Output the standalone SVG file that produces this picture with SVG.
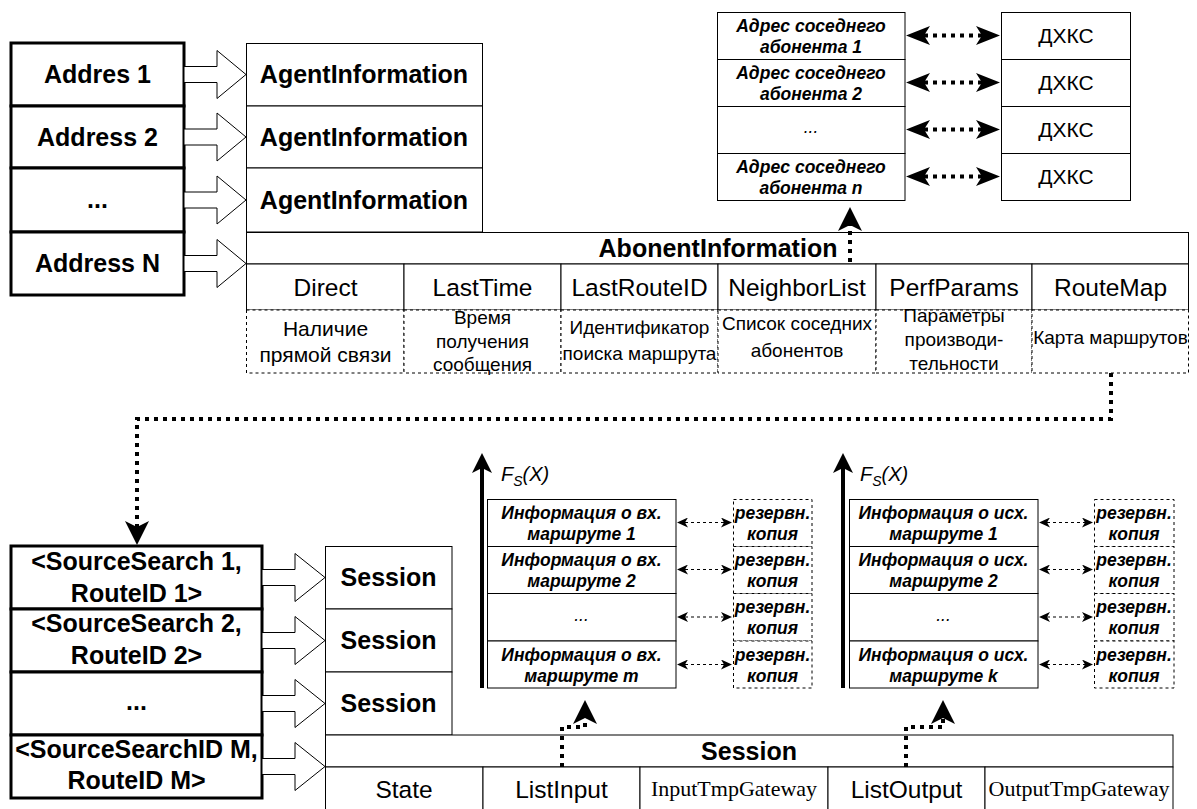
<svg xmlns="http://www.w3.org/2000/svg" width="1197" height="809" viewBox="0 0 1197 809">
  <style>
    .thin { fill: #fff; stroke: #000; stroke-width: 1; }
    .thick { fill: #fff; stroke: #000; stroke-width: 3; }
    .dash { fill: #fff; stroke: #000; stroke-width: 1; stroke-dasharray: 3 3; }
    .blk { fill: #fff; stroke: #000; stroke-width: 1; }
    .dot { fill: none; stroke: #000; stroke-width: 4; stroke-dasharray: 4 5; }
    .sdash { fill: none; stroke: #000; stroke-width: 1.2; stroke-dasharray: 3 3; }
    .axis { fill: none; stroke: #000; stroke-width: 4; }
    text { font-family: "Liberation Sans", Arial, sans-serif; fill: #000; text-anchor: middle; }
    .b24 { font-size: 25px; font-weight: bold; }
    .r24 { font-size: 24.5px; }
    .r21 { font-size: 21px; }
    .r19 { font-size: 19px; }
    .r21d { font-size: 21px; }
    .bi { font-size: 17.5px; font-weight: bold; font-style: italic; }
    .ri { font-size: 17.5px; font-style: italic; }
    .serif { font-family: "Liberation Serif", "Times New Roman", serif; font-size: 22px; }
    .fs { font-size: 20px; font-style: italic; text-anchor: start; }
  </style>
  <defs>
    <marker id="aBig" viewBox="0 0 24 24" refX="6" refY="12" markerWidth="24" markerHeight="24" markerUnits="userSpaceOnUse" orient="auto-start-reverse">
      <path d="M24,12 L0,0 L6,12 L0,24 Z" fill="#000"/>
    </marker>
    <marker id="aNb" viewBox="0 0 24 19" refX="6" refY="9.5" markerWidth="24" markerHeight="19" markerUnits="userSpaceOnUse" orient="auto-start-reverse">
      <path d="M24,9.5 L0,0 L6,9.5 L0,19 Z" fill="#000"/>
    </marker>
    <marker id="aSm" viewBox="0 0 11 10" refX="3" refY="5" markerWidth="11" markerHeight="10" markerUnits="userSpaceOnUse" orient="auto-start-reverse">
      <path d="M11,5 L0,0 L3,5 L0,10 Z" fill="#000"/>
    </marker>
    <marker id="aFs" viewBox="0 0 20 20" refX="5" refY="10" markerWidth="20" markerHeight="20" markerUnits="userSpaceOnUse" orient="auto-start-reverse">
      <path d="M20,10 L0,0 L5,10 L0,20 Z" fill="#000"/>
    </marker>
  </defs>

  <rect width="1197" height="809" fill="#fff"/>

  <!-- address table -->
  <g id="addresses">
    <rect class="thick" x="11" y="43" width="173" height="63"/>
    <rect class="thick" x="11" y="106" width="173" height="62"/>
    <rect class="thick" x="11" y="168" width="173" height="64"/>
    <rect class="thick" x="11" y="232" width="173" height="63"/>
    <text class="b24" x="97.5" y="83">Addres 1</text>
    <text class="b24" x="97.5" y="145.5">Address 2</text>
    <text class="b24" x="97.5" y="208">...</text>
    <text class="b24" x="97.5" y="272">Address N</text>
  </g>

  <!-- agent information records -->
  <g id="agent-info">
    <rect class="thin" x="246.5" y="43.5" width="236" height="62.5"/>
    <rect class="thin" x="246.5" y="106" width="236" height="62"/>
    <rect class="thin" x="246.5" y="168" width="236" height="64"/>
    <text class="b24" x="364" y="83">AgentInformation</text>
    <text class="b24" x="364" y="145.5">AgentInformation</text>
    <text class="b24" x="364" y="208.5">AgentInformation</text>
  </g>

  <!-- abonent information structure -->
  <g id="abonent-info">
    <rect class="thin" x="246.5" y="232.5" width="942" height="31.5"/>
    <text class="b24" x="718" y="256.5">AbonentInformation</text>
    <rect class="thin" x="246.5" y="264" width="157.5" height="46"/>
    <rect class="thin" x="404" y="264" width="157" height="46"/>
    <rect class="thin" x="561" y="264" width="157" height="46"/>
    <rect class="thin" x="718" y="264" width="158" height="46"/>
    <rect class="thin" x="876" y="264" width="156" height="46"/>
    <rect class="thin" x="1032" y="264" width="156.5" height="46"/>
    <text class="r24" x="325.5" y="295.5">Direct</text>
    <text class="r24" x="482.5" y="295.5">LastTime</text>
    <text class="r24" x="639.5" y="295.5">LastRouteID</text>
    <text class="r24" x="797" y="295.5">NeighborList</text>
    <text class="r24" x="954" y="295.5">PerfParams</text>
    <text class="r24" x="1110.5" y="295.5">RouteMap</text>
  </g>

  <!-- field descriptions -->
  <g id="abonent-desc">
    <rect class="dash" x="246.5" y="310" width="157.5" height="63"/>
    <rect class="dash" x="404" y="310" width="157" height="63"/>
    <rect class="dash" x="561" y="310" width="157" height="63"/>
    <rect class="dash" x="718" y="310" width="158" height="63"/>
    <rect class="dash" x="876" y="310" width="156" height="63"/>
    <rect class="dash" x="1032" y="310" width="156.5" height="63"/>
    <text class="r21d" x="325.5" y="336">Наличие</text>
    <text class="r21d" x="325.5" y="362">прямой связи</text>
    <text class="r19" x="482.5" y="324">Время</text>
    <text class="r19" x="482.5" y="347.5">получения</text>
    <text class="r19" x="482.5" y="371">сообщения</text>
    <text class="r19" x="639.5" y="334">Идентификатор</text>
    <text class="r19" x="639.5" y="360">поиска маршрута</text>
    <text class="r19" x="797" y="330">Список соседних</text>
    <text class="r19" x="797" y="357">абонентов</text>
    <text class="r19" x="954" y="322">Параметры</text>
    <text class="r19" x="954" y="346">производи-</text>
    <text class="r19" x="954" y="370">тельности</text>
    <text class="r19" x="1110.5" y="344">Карта маршрутов</text>
  </g>

  <!-- neighbour addresses -->
  <g id="neighbors">
    <rect class="thin" x="717.5" y="12.5" width="187.5" height="47"/>
    <rect class="thin" x="717.5" y="59.5" width="187.5" height="47"/>
    <rect class="thin" x="717.5" y="106.5" width="187.5" height="47"/>
    <rect class="thin" x="717.5" y="153.5" width="187.5" height="47"/>
    <text class="bi" x="811" y="31.5">Адрес соседнего</text>
    <text class="bi" x="811" y="52.5">абонента 1</text>
    <text class="bi" x="811" y="78.5">Адрес соседнего</text>
    <text class="bi" x="811" y="99.5">абонента 2</text>
    <text class="ri" x="811" y="133">...</text>
    <text class="bi" x="811" y="172.5">Адрес соседнего</text>
    <text class="bi" x="811" y="193.5">абонента n</text>
  </g>

  <!-- ДХКС blocks -->
  <g id="dhks">
    <rect class="thin" x="1001.5" y="12.5" width="129" height="47"/>
    <rect class="thin" x="1001.5" y="59.5" width="129" height="47"/>
    <rect class="thin" x="1001.5" y="106.5" width="129" height="47"/>
    <rect class="thin" x="1001.5" y="153.5" width="129" height="47"/>
    <text class="r21" x="1066" y="43">ДХКС</text>
    <text class="r21" x="1066" y="90">ДХКС</text>
    <text class="r21" x="1066" y="137">ДХКС</text>
    <text class="r21" x="1066" y="184">ДХКС</text>
  </g>

  <!-- search keys -->
  <g id="source-search">
    <rect class="thick" x="11" y="546" width="251" height="63"/>
    <rect class="thick" x="11" y="609" width="251" height="63"/>
    <rect class="thick" x="11" y="672" width="251" height="63"/>
    <rect class="thick" x="11" y="735" width="251" height="63"/>
    <text class="b24" x="136.5" y="570">&lt;SourceSearch 1,</text>
    <text class="b24" x="136.5" y="601.5">RouteID 1&gt;</text>
    <text class="b24" x="136.5" y="632">&lt;SourceSearch 2,</text>
    <text class="b24" x="136.5" y="663.5">RouteID 2&gt;</text>
    <text class="b24" x="136.5" y="710">...</text>
    <text class="b24" x="136.5" y="758">&lt;SourceSearchID M,</text>
    <text class="b24" x="136.5" y="789">RouteID M&gt;</text>
  </g>

  <!-- session records -->
  <g id="sessions">
    <rect class="thin" x="325.5" y="546.5" width="126.5" height="62.5"/>
    <rect class="thin" x="325.5" y="609" width="126.5" height="63"/>
    <rect class="thin" x="325.5" y="672" width="126.5" height="63"/>
    <text class="b24" x="388.5" y="586">Session</text>
    <text class="b24" x="388.5" y="649">Session</text>
    <text class="b24" x="388.5" y="712">Session</text>
  </g>

  <!-- session structure -->
  <g id="session-struct">
    <rect class="thin" x="325.5" y="735" width="847.5" height="32"/>
    <text class="b24" x="749" y="760">Session</text>
    <rect class="thin" x="325.5" y="767" width="157.5" height="50"/>
    <rect class="thin" x="483" y="767" width="157" height="50"/>
    <rect class="thin" x="640" y="767" width="188" height="50"/>
    <rect class="thin" x="828" y="767" width="157" height="50"/>
    <rect class="thin" x="985" y="767" width="188" height="50"/>
    <text class="r24" x="404" y="797.5">State</text>
    <text class="r24" x="561.5" y="797.5">ListInput</text>
    <text class="serif" x="734" y="796">InputTmpGateway</text>
    <text class="r24" x="906.5" y="797.5">ListOutput</text>
    <text class="serif" x="1079" y="796">OutputTmpGateway</text>
  </g>

  <!-- incoming routes -->
  <g id="in-routes">
    <rect class="thin" x="487.5" y="499.5" width="188.5" height="47"/>
    <rect class="thin" x="487.5" y="546.5" width="188.5" height="47"/>
    <rect class="thin" x="487.5" y="593.5" width="188.5" height="47.5"/>
    <rect class="thin" x="487.5" y="641" width="188.5" height="47"/>
    <text class="bi" x="581.5" y="518.5">Информация о вх.</text>
    <text class="bi" x="581.5" y="539.5">маршруте 1</text>
    <text class="bi" x="581.5" y="565.5">Информация о вх.</text>
    <text class="bi" x="581.5" y="586.5">маршруте 2</text>
    <text class="ri" x="581.5" y="621">...</text>
    <text class="bi" x="581.5" y="660.5">Информация о вх.</text>
    <text class="bi" x="581.5" y="681.5">маршруте m</text>
    <text class="fs" x="501" y="481">F<tspan font-size="14" dy="5">S</tspan><tspan dy="-5">(X)</tspan></text>
  </g>

  <!-- incoming route backups -->
  <g id="in-backups">
    <rect class="dash" x="733.5" y="499.5" width="78.5" height="47"/>
    <rect class="dash" x="733.5" y="546.5" width="78.5" height="47"/>
    <rect class="dash" x="733.5" y="593.5" width="78.5" height="47.5"/>
    <rect class="dash" x="733.5" y="641" width="78.5" height="47"/>
    <text class="bi" x="772.5" y="518.5">резервн.</text>
    <text class="bi" x="772.5" y="539.5">копия</text>
    <text class="bi" x="772.5" y="565.5">резервн.</text>
    <text class="bi" x="772.5" y="586.5">копия</text>
    <text class="bi" x="772.5" y="613">резервн.</text>
    <text class="bi" x="772.5" y="634">копия</text>
    <text class="bi" x="772.5" y="660.5">резервн.</text>
    <text class="bi" x="772.5" y="681.5">копия</text>
  </g>

  <!-- outgoing routes -->
  <g id="out-routes">
    <rect class="thin" x="849.5" y="499.5" width="188.5" height="47"/>
    <rect class="thin" x="849.5" y="546.5" width="188.5" height="47"/>
    <rect class="thin" x="849.5" y="593.5" width="188.5" height="47.5"/>
    <rect class="thin" x="849.5" y="641" width="188.5" height="47"/>
    <text class="bi" x="943.5" y="518.5">Информация о исх.</text>
    <text class="bi" x="943.5" y="539.5">маршруте 1</text>
    <text class="bi" x="943.5" y="565.5">Информация о исх.</text>
    <text class="bi" x="943.5" y="586.5">маршруте 2</text>
    <text class="ri" x="943.5" y="621">...</text>
    <text class="bi" x="943.5" y="660.5">Информация о исх.</text>
    <text class="bi" x="943.5" y="681.5">маршруте k</text>
    <text class="fs" x="860" y="481">F<tspan font-size="14" dy="5">S</tspan><tspan dy="-5">(X)</tspan></text>
  </g>

  <!-- outgoing route backups -->
  <g id="out-backups">
    <rect class="dash" x="1094.5" y="499.5" width="79.5" height="47"/>
    <rect class="dash" x="1094.5" y="546.5" width="79.5" height="47"/>
    <rect class="dash" x="1094.5" y="593.5" width="79.5" height="47.5"/>
    <rect class="dash" x="1094.5" y="641" width="79.5" height="47"/>
    <text class="bi" x="1134" y="518.5">резервн.</text>
    <text class="bi" x="1134" y="539.5">копия</text>
    <text class="bi" x="1134" y="565.5">резервн.</text>
    <text class="bi" x="1134" y="586.5">копия</text>
    <text class="bi" x="1134" y="613">резервн.</text>
    <text class="bi" x="1134" y="634">копия</text>
    <text class="bi" x="1134" y="660.5">резервн.</text>
    <text class="bi" x="1134" y="681.5">копия</text>
  </g>

  <!-- connectors -->
  <g id="connectors">
    <!-- hollow block arrows: address -> record -->
    <path class="blk" d="M184,66.5 H217 V50.5 L246,74.5 L217,98.5 V82.5 H184 Z"/>
    <path class="blk" d="M184,129 H217 V113 L246,137 L217,161 V145 H184 Z"/>
    <path class="blk" d="M184,192 H217 V176 L246,200 L217,224 V208 H184 Z"/>
    <path class="blk" d="M184,255.5 H217 V239.5 L246,263.5 L217,287.5 V271.5 H184 Z"/>
    <!-- hollow block arrows: key -> session -->
    <path class="blk" d="M262,569.5 H295 V553.5 L325,577.5 L295,601.5 V585.5 H262 Z"/>
    <path class="blk" d="M262,632.5 H295 V616.5 L325,640.5 L295,664.5 V648.5 H262 Z"/>
    <path class="blk" d="M262,695.5 H295 V679.5 L325,703.5 L295,727.5 V711.5 H262 Z"/>
    <path class="blk" d="M262,758.5 H295 V742.5 L325,766.5 L295,790.5 V774.5 H262 Z"/>

    <!-- neighbour list link -->
    <path class="dot" d="M850,262 V225" marker-end="url(#aBig)"/>
    <!-- neighbour address <-> ДХКС -->
    <path class="dot" d="M924,35.5 H982" marker-start="url(#aNb)" marker-end="url(#aNb)"/>
    <path class="dot" d="M924,82.5 H982" marker-start="url(#aNb)" marker-end="url(#aNb)"/>
    <path class="dot" d="M924,129.5 H982" marker-start="url(#aNb)" marker-end="url(#aNb)"/>
    <path class="dot" d="M924,176.5 H982" marker-start="url(#aNb)" marker-end="url(#aNb)"/>

    <!-- route map -> search keys -->
    <path class="dot" d="M1111,373 V419 H137 V527" marker-end="url(#aBig)"/>

    <!-- session lists -> route stacks -->
    <path class="dot" d="M562,767 V727 H585 V718" marker-end="url(#aBig)"/>
    <path class="dot" d="M906,767 V727 H943 V718" marker-end="url(#aBig)"/>

    <!-- F_S(X) axes -->
    <path class="axis" d="M482,688 V468" marker-end="url(#aFs)"/>
    <path class="axis" d="M843,688 V468" marker-end="url(#aFs)"/>

    <!-- route <-> backup copies -->
    <path class="sdash" d="M685,522.5 H724" marker-start="url(#aSm)" marker-end="url(#aSm)"/>
    <path class="sdash" d="M685,569.5 H724" marker-start="url(#aSm)" marker-end="url(#aSm)"/>
    <path class="sdash" d="M685,617 H724" marker-start="url(#aSm)" marker-end="url(#aSm)"/>
    <path class="sdash" d="M685,664.5 H724" marker-start="url(#aSm)" marker-end="url(#aSm)"/>
    <path class="sdash" d="M1047,522.5 H1085" marker-start="url(#aSm)" marker-end="url(#aSm)"/>
    <path class="sdash" d="M1047,569.5 H1085" marker-start="url(#aSm)" marker-end="url(#aSm)"/>
    <path class="sdash" d="M1047,617 H1085" marker-start="url(#aSm)" marker-end="url(#aSm)"/>
    <path class="sdash" d="M1047,664.5 H1085" marker-start="url(#aSm)" marker-end="url(#aSm)"/>
  </g>
</svg>
